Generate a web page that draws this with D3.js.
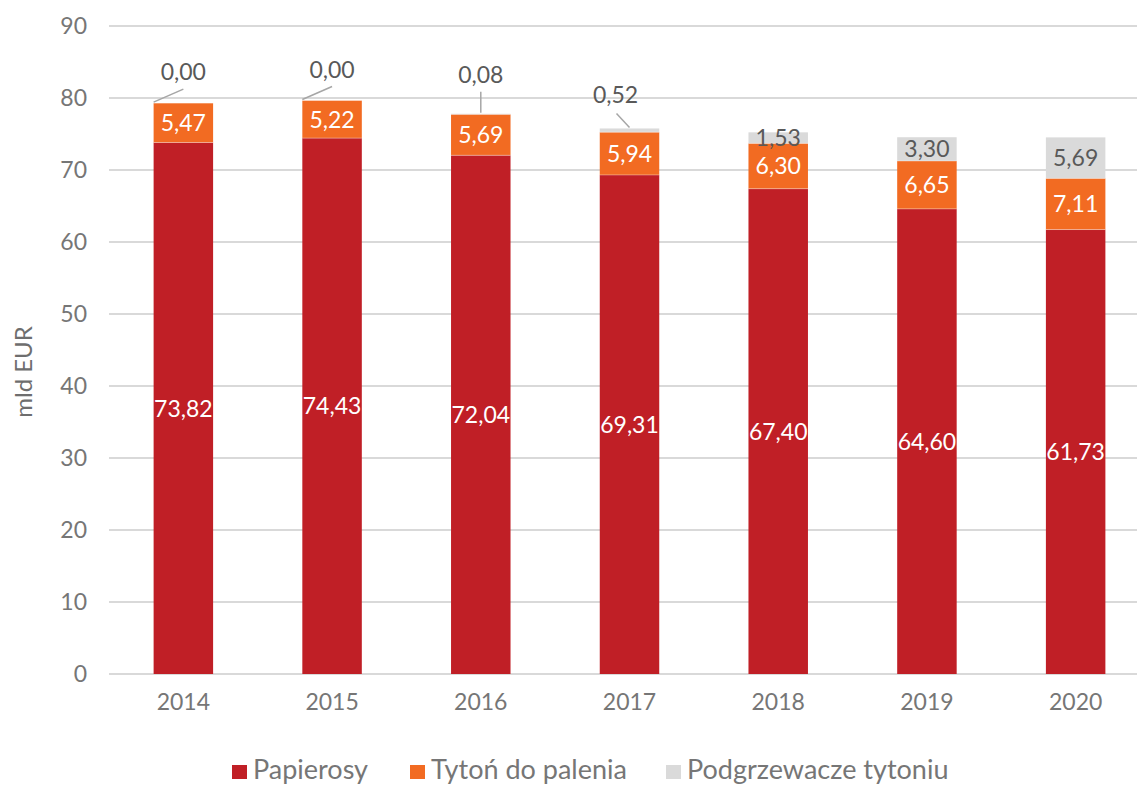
<!DOCTYPE html>
<html>
<head>
<meta charset="utf-8">
<script src="https://cdn.jsdelivr.net/npm/d3@7"></script>
<style>
  html, body { margin: 0; padding: 0; background: #fff; }
  svg { display: block; font-family: Lato, "Noto Sans", sans-serif; }
</style>
</head>
<body>
<svg id="chart" width="1137" height="785"></svg>
<script>
// Tobacco market value by product type, bn EUR
const years = ["2014", "2015", "2016", "2017", "2018", "2019", "2020"];
const papierosy = [73.82, 74.43, 72.04, 69.31, 67.40, 64.60, 61.73];
const tyton = [5.47, 5.22, 5.69, 5.94, 6.30, 6.65, 7.11];
const podgrzewacze = [0.00, 0.00, 0.08, 0.52, 1.53, 3.30, 5.69];
const seriesNames = ["Papierosy", "Tytoń do palenia", "Podgrzewacze tytoniu"];
const yTicks = [0, 10, 20, 30, 40, 50, 60, 70, 80, 90];

const colors = ["#C01F26", "#F26B22", "#DADADA"];
const labelColors = ["#FFFFFF", "#FFFFFF", "#595959"];

const svg = d3.select("#chart");
const W = 1137, H = 785;
const margin = { left: 109, right: -13, top: 26, bottom: 111 };

const x = d3.scaleBand().domain(years)
  .range([margin.left, W - margin.right])
  .paddingInner(0.6).paddingOuter(0.3);
const y = d3.scaleLinear().domain([0, 90]).range([H - margin.bottom, margin.top]);

const table = years.map((yr, i) => ({
  year: yr, s0: papierosy[i], s1: tyton[i], s2: podgrzewacze[i]
}));
const stack = d3.stack().keys(["s0", "s1", "s2"]);
const layers = stack(table);

// gridlines
svg.append("g")
  .selectAll("line").data(yTicks).join("line")
  .attr("x1", margin.left).attr("x2", W)
  .attr("y1", d => y(d)).attr("y2", d => y(d))
  .attr("stroke", "#D9D9D9").attr("stroke-width", 2);

// y axis labels
const yAxis = d3.axisLeft(y).tickValues(yTicks).tickSize(0).tickPadding(22);
const gy = svg.append("g").attr("transform", `translate(${margin.left},0)`).call(yAxis);
gy.select(".domain").remove();
gy.selectAll("text").attr("font-size", 23).attr("fill", "#767676")
  .attr("font-family", "Lato, sans-serif");

// x axis labels
const xAxis = d3.axisBottom(x).tickSize(0).tickPadding(20);
const gx = svg.append("g").attr("transform", `translate(0,${y(0)})`).call(xAxis);
gx.select(".domain").remove();
gx.selectAll("text").attr("font-size", 23).attr("fill", "#767676")
  .attr("font-family", "Lato, sans-serif");

// y title
svg.append("text")
  .attr("transform", `translate(32,${(y(0) + y(90)) / 2 + 22}) rotate(-90)`)
  .attr("text-anchor", "middle")
  .attr("font-size", 24).attr("fill", "#6E6E6E")
  .text("mld EUR");

// stacked bars
const layerG = svg.append("g").selectAll("g").data(layers).join("g")
  .attr("fill", (d, i) => colors[i]);
layerG.selectAll("rect").data(d => d).join("rect")
  .attr("x", d => x(d.data.year))
  .attr("width", x.bandwidth())
  .attr("y", d => y(d[1]))
  .attr("height", d => Math.max(0, y(d[0]) - y(d[1])));

// thin separators between stacked segments
layerG.filter((d, i) => i > 0).selectAll("line").data(d => d).join("line")
  .attr("x1", d => x(d.data.year)).attr("x2", d => x(d.data.year) + x.bandwidth())
  .attr("y1", d => y(d[0])).attr("y2", d => y(d[0]))
  .attr("stroke", "#FFFFFF").attr("stroke-opacity", 0.35).attr("stroke-width", 1);

const fmt = v => v.toFixed(2).replace(".", ",");

// in-bar value labels
const minInside = 1.2;
layers.forEach((layer, li) => {
  svg.append("g").selectAll("text")
    .data(layer.filter(d => (d[1] - d[0]) >= minInside)).join("text")
    .attr("x", d => x(d.data.year) + x.bandwidth() / 2)
    .attr("y", d => y((d[0] + d[1]) / 2))
    .attr("dy", "0.36em")
    .attr("text-anchor", "middle")
    .attr("font-size", 23)
    .attr("fill", labelColors[li])
    .text(d => fmt(d[1] - d[0]));
});

// callout labels for thin top segments: [label dx, label dy, leader anchor]
const callouts = {
  "2014": [0, -31, "corner"],
  "2015": [0, -31, "corner"],
  "2016": [0, -39, "center"],
  "2017": [-14, -34, "slant"]
};
const thinTop = layers[2].filter(d => (d[1] - d[0]) < minInside);
const callG = svg.append("g");
thinTop.forEach(d => {
  const yr = d.data.year;
  const [dx, dy, kind] = callouts[yr];
  const cx = x(yr) + x.bandwidth() / 2;
  const topY = y(d[1]);
  const lx = cx + dx;
  const ly = topY + dy;
  let ax, ay, bx, by;
  if (kind === "corner") {
    ax = x(yr); ay = topY - 1; bx = lx; by = ly + 17;
  } else if (kind === "slant") {
    ax = cx; ay = topY - 1; bx = lx + 1; by = ly + 19;
  } else {
    ax = cx; ay = topY - 1; bx = cx; by = ly + 17;
  }
  callG.append("line")
    .attr("x1", ax).attr("y1", ay).attr("x2", bx).attr("y2", by)
    .attr("stroke", "#A6A6A6").attr("stroke-width", 1.5);
  callG.append("text")
    .attr("x", lx).attr("y", ly)
    .attr("dy", "0.36em")
    .attr("text-anchor", "middle")
    .attr("font-size", 23)
    .attr("fill", "#595959")
    .text(fmt(d[1] - d[0]));
});

// legend
const legendX = [232, 410, 666];
const lg = svg.append("g").attr("transform", `translate(0,${779})`);
seriesNames.forEach((name, i) => {
  const g = lg.append("g").attr("transform", `translate(${legendX[i]},0)`);
  g.append("rect").attr("x", 0).attr("y", -14).attr("width", 15).attr("height", 14)
    .attr("fill", colors[i]);
  g.append("text").attr("x", 21).attr("y", 0)
    .attr("font-size", 27).attr("fill", "#767676").text(name);
});
</script>
</body>
</html>
